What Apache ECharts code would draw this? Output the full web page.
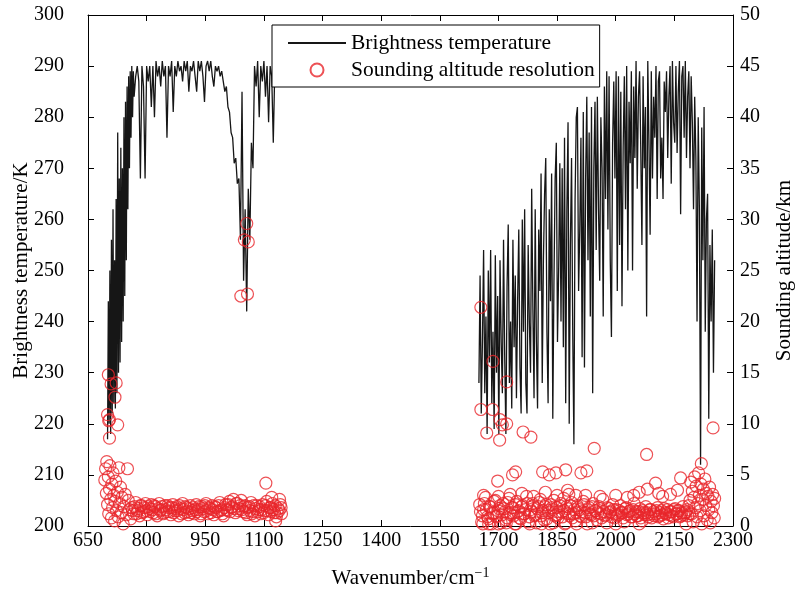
<!DOCTYPE html>
<html><head><meta charset="utf-8">
<script src="https://cdn.jsdelivr.net/npm/echarts/dist/echarts.min.js"></script>
<style>html,body{margin:0;padding:0;background:#fff}#c{width:797px;height:589px}</style>
</head><body><div id="c"></div>
<script>
// ---- Brightness temperature spectrum (K), regular wavenumber grids ----
const edgeStart = 700, edgeStep = 2;
const edgeTemp = [
 217,244,220,250,218,256,222,262,224,252,
 223,264,226,277,230,268,232,274,236,270,
 240,280,245,283,252,286,262,288,270,289,
 276,290,280,289,284];
const plateauStart = 772, plateauStep = 4;
const plateauTemp = [
 288,290,287,268,290,286,268,290,287,290,
 282,290,280,291,288,290,286,291,288,290,
 276,290,288,291,281,290,288,291,289,290,
 287,291,289,291,285,290,289,291,288,285,
 291,289,291,288,283,290,291,289,291,288,
 286,290,289,290,288,289,287,285,286,282,
 281,277,276,271,272,267,268,256,285,248,
 262,242,266,256,275,270,290,286,291,280,
 290,287,291,284,290,279,290,288,275,290,
 289,291,289,290];
const band2Start = 1650, band2Step = 3;
const band2Temp = [
 228,249,222,236,254,226,241,218,250,232,
 254,224,238,219,253,230,245,218,252,236,
 226,256,233,218,247,259,228,240,223,256,
 235,249,225,244,258,231,222,260,238,262,
 228,222,255,240,230,266,243,225,262,236,
 223,258,246,269,228,252,265,272,238,224,
 262,244,269,221,248,268,275,236,250,271,
 240,270,235,276,224,262,279,220,255,272,
 238,216,264,280,282,246,258,276,233,281,
 231,268,284,252,277,241,282,226,270,283,
 254,284,262,248,280,270,241,286,264,289,
 258,288,252,237,275,287,268,289,246,288,
 255,285,243,274,288,262,290,250,283,271,
 289,250,286,272,291,266,284,289,274,255,
 288,270,282,241,291,275,257,289,268,284,
 276,290,264,287,289,268,276,264,287,281,
 289,272,284,290,267,291,279,275,290,273,
 285,291,261,288,290,276,291,272,284,289,
 270,288,279,262,284,272,240,280,262,212,
 278,252,282,238,260,265,221,255,240,258,
 230,252];

// ---- Sounding altitude resolution (km) ----
const edgeWn = [702,709,722,719,700,703,726,705,705,
 693,695,697,698,700,702,703,705,706,708,710,711,713,714,716,718,719,721,723,725,727,729,731,733,735,737,740,742,745,748,751,753,756,759];
const edgeKm = [14.8,13.9,14.0,12.6,10.9,10.3,9.9,8.6,10.4,
 4.5,5.6,3.2,6.3,2.1,4.8,1.2,3.6,5.9,2.6,0.8,4.1,1.8,5.2,3.0,0.5,2.4,4.4,1.5,3.3,0.9,5.7,2.2,3.8,1.3,2.8,0.2,1.9,3.1,1.1,5.6,2.5,1.6,0.7];
const flat1Start = 762, flat1Step = 5;
const flat1Km = [
 1.8,1.2,2.3,1.5,1.0,2.0,1.4,2.2,1.1,1.7,
 2.1,1.3,1.9,1.0,2.2,1.6,1.2,2.0,1.4,1.8,
 1.1,2.1,1.5,1.9,1.0,1.7,2.2,1.3,1.8,1.1,
 2.0,1.5,1.2,2.1,1.6,1.0,1.9,1.4,2.2,1.2,
 1.7,2.0,1.1,1.8,1.4,2.3,1.6,1.0,2.1,1.5,
 2.4,1.8,2.6,1.3,2.2,1.7,2.5,1.4,2.0,1.1,
 1.9,2.3,1.4,1.0,2.0,1.6,1.2,2.1,1.5,2.4,
 1.1,1.8,2.2,1.3,0.9,1.7,2.1];
const flat1bStart = 764, flat1bStep = 5;
const flat1bKm = [
 1.5,1.9,1.2,1.7,2.0,1.3,1.8,1.5,1.9,1.4,
 1.6,2.0,1.2,1.7,1.5,1.9,1.3,1.6,2.0,1.4,
 1.8,1.3,1.7,1.5,2.0,1.2,1.6,1.9,1.4,1.7,
 1.3,1.8,1.6,1.4,1.9,1.2,1.7,2.0,1.5,1.8,
 1.3,1.6,1.9,1.4,2.0,1.5,1.2,1.8,1.6,2.1,
 1.4,1.9,1.7,2.2,1.5,2.0,1.6,1.9,1.3,1.8,
 1.5,1.2,2.0,1.7,1.4,1.9,1.6,1.3,2.0,1.5,
 1.8,1.4,1.6,2.0,1.3,1.5,1.8];
const flat2Start = 1652, flat2Step = 5;
const flat2Km = [
 2.1,0.4,1.6,2.8,0.9,1.9,0.2,1.3,2.5,1.0,
 1.7,0.3,2.2,1.4,0.8,2.7,1.1,1.8,0.2,2.4,
 1.5,0.7,2.0,1.2,2.9,0.4,1.6,2.2,1.0,0.3,
 1.9,2.6,1.3,0.6,2.1,1.5,0.2,1.8,2.5,1.1,
 0.8,2.0,1.4,2.7,0.3,1.7,1.0,2.3,1.2,0.5,
 2.0,1.6,0.9,2.4,1.3,0.2,1.8,1.1,2.2,1.5,
 0.6,1.9,1.2,2.6,1.0,0.3,1.7,1.4,2.1,0.8,
 1.6,1.1,2.0,1.3,0.4,1.8,1.2,1.5,0.9,2.2,
 1.4,1.0,1.7,0.5,1.3,1.9,1.1,1.6,0.8,1.4,
 1.2,1.8,1.0,1.5,0.7,1.3,1.6,1.1,1.4,0.9,
 1.7,1.2,1.5,1.0,1.9,1.3,1.6,2.0];
const flat2bStart = 1654, flat2bStep = 5;
const flat2bKm = [
 1.4,1.0,2.2,1.6,0.7,1.9,1.2,2.4,0.9,1.5,
 2.0,1.1,1.7,0.6,2.3,1.3,1.8,1.0,2.1,1.4,
 0.8,1.9,1.2,1.6,2.2,0.9,1.4,2.0,1.1,1.7,
 2.3,1.0,1.5,1.9,0.7,1.3,2.1,1.6,1.0,1.8,
 1.4,2.2,0.9,1.5,1.9,1.2,2.0,0.8,1.6,1.3,
 1.8,1.0,1.4,2.1,0.9,1.6,1.2,1.9,1.0,1.5,
 1.3,1.7,0.8,1.4,1.1,1.8,1.3,0.9,1.6,1.2,
 1.0,1.5,1.3,0.8,1.7,1.1,1.4,0.9,1.6,1.2,
 1.0,1.4,0.8,1.5,1.1,1.3,0.9,1.6,1.2,1.0,
 1.5,0.9,1.3,1.1,1.7,1.2,0.8,1.4,1.0,1.6,
 1.2,1.5,0.9,1.3,1.1,1.4,1.0,1.2];
const otherWn = [1105,1041,1058,1050,1060,1056,1120,1130,1140,1145,
 1655,1686,1721,1655,1685,1704,1721,1710,1670,1703,1763,1783,1945,
 1744,1736,1698,1813,1847,1872,1830,1911,1926,2079,2166,2102,2081,1877,1898,1923,2158,2110,2046,
 1662,1700,1730,1760,1790,1820,1850,1880,1960,2000,2030,2060,2120,2140,
 1660,1675,1700,1720,1745,1780,1810,1840,1870,1900,1940,2000,2060,2180,
 2190,2192,2194,2196,2198,2200,2202,2204,2206,2208,2210,2212,2214,2216,2218,2220,2222,2224,2226,2228,2230,2232,2234,2236,2238,2240,2242,2244,2246,2248,2250,2252,2253,2219,2249];
const otherKm = [4.2,22.5,22.7,28.0,27.8,29.6,2.8,0.5,2.6,1.2,
 21.4,16.1,14.1,11.4,11.4,10.4,10.0,9.9,9.1,8.4,9.2,8.7,7.6,
 5.3,5.0,4.4,5.3,5.2,5.5,5.0,5.2,5.4,7.0,4.7,4.2,3.6,3.5,3.0,3.0,3.5,3.2,3.0,
 3.0,2.9,3.1,3.2,2.9,3.3,3.0,3.1,2.9,3.0,2.8,3.3,2.9,3.1,
 0.2,0.2,0.2,0.3,0.2,0.2,0.2,0.3,0.2,0.2,0.3,0.2,0.2,0.2,
 2.5,4.3,1.2,3.4,0.4,2.8,4.8,1.8,3.9,0.9,2.2,5.2,3.0,1.5,4.1,0.2,2.6,3.6,1.0,4.6,2.0,3.2,0.6,2.9,1.6,3.8,0.3,2.4,1.3,3.1,2.0,0.8,2.7,6.1,9.6];

// ---- axis ticks ----
const xMin = 650, xMax = 2300, xInterval = 150;
const tMin = 200, tMax = 300, tInterval = 10;
const aMin = 0, aMax = 50, aInterval = 5;

const FONT = '"Liberation Serif","Times New Roman",serif';
const grid = (start, step, vals) => vals.map((v, i) => [start + i * step, v]);
const line1 = grid(edgeStart, edgeStep, edgeTemp).concat(grid(plateauStart, plateauStep, plateauTemp));
const line2 = grid(band2Start, band2Step, band2Temp);
const pts = [];
edgeWn.forEach((w, i) => pts.push([w, edgeKm[i]]));
grid(flat1Start, flat1Step, flat1Km).forEach(p => pts.push(p));
grid(flat1bStart, flat1bStep, flat1bKm).forEach(p => pts.push(p));
grid(flat2Start, flat2Step, flat2Km).forEach(p => pts.push(p));
grid(flat2bStart, flat2bStep, flat2bKm).forEach(p => pts.push(p));
otherWn.forEach((w, i) => pts.push([w, otherKm[i]]));

const RED = '#e8262b';
const axisCommon = {
  axisLine: {onZero: false, lineStyle: {color: '#000', width: 1}},
  axisTick: {inside: true, length: 6, lineStyle: {color: '#000', width: 1}},
  splitLine: {show: false},
  nameMoveOverlap: false
};
const lblStyle = {color: '#000', fontFamily: FONT, fontSize: 20, formatter: v => String(v)};
const nameStyle = {color: '#000', fontFamily: FONT, fontSize: 21};

const chart = echarts.init(document.getElementById('c'));
chart.setOption({
  animation: false,
  backgroundColor: '#fff',
  grid: {left: 88, right: 64, top: 15, bottom: 63, containLabel: false, outerBoundsMode: 'none'},
  legend: {
    orient: 'vertical', left: 272, top: 25,
    padding: [7, 5, 6, 15], itemGap: 5, itemWidth: 58, itemHeight: 13,
    backgroundColor: '#fff', borderColor: '#000', borderWidth: 1,
    textStyle: {fontFamily: FONT, fontSize: 21.5, color: '#000'},
    data: [
      {name: 'Brightness temperature', itemStyle: {color: 'rgba(0,0,0,0)', borderWidth: 0, opacity: 0}},
      {name: 'Sounding altitude resolution'}
    ]
  },
  xAxis: [
    Object.assign({type: 'value', min: xMin, max: xMax, interval: xInterval, position: 'bottom',
      axisLabel: Object.assign({margin: 5}, lblStyle),
      name: 'Wavenumber/cm{s|−1}', nameLocation: 'middle', nameGap: 40,
      nameTextStyle: Object.assign({rich: {s: {fontFamily: FONT, fontSize: 14, padding: [0, 0, 10, 0], color: '#000'}}}, nameStyle)
    }, axisCommon),
    Object.assign({type: 'value', min: xMin, max: xMax, interval: xInterval, position: 'top',
      axisLabel: {show: false}}, axisCommon)
  ],
  yAxis: [
    Object.assign({type: 'value', min: tMin, max: tMax, interval: tInterval, position: 'left',
      axisLabel: Object.assign({margin: 24}, lblStyle),
      name: 'Brightness temperature/K', nameLocation: 'middle', nameGap: 56,
      nameTextStyle: nameStyle}, axisCommon),
    Object.assign({type: 'value', min: aMin, max: aMax, interval: aInterval, position: 'right',
      axisLabel: Object.assign({margin: 7}, lblStyle),
      name: 'Sounding altitude/km', nameLocation: 'middle', nameGap: 41,
      nameTextStyle: nameStyle}, axisCommon)
  ],
  series: [
    {name: 'Brightness temperature', type: 'line', xAxisIndex: 0, yAxisIndex: 0, data: line1,
     symbol: 'none', sampling: null, lineStyle: {color: '#161616', width: 1.3}, itemStyle: {color: '#161616'}, z: 2},
    {name: 'Brightness temperature', type: 'line', xAxisIndex: 0, yAxisIndex: 0, data: line2,
     symbol: 'none', sampling: null, lineStyle: {color: '#161616', width: 1.3}, itemStyle: {color: '#161616'}, z: 2},
    {name: 'Sounding altitude resolution', type: 'scatter', xAxisIndex: 0, yAxisIndex: 1, data: pts,
     symbol: 'circle', symbolSize: 12,
     itemStyle: {color: 'rgba(255,255,255,0)', borderColor: RED, borderWidth: 1.2}, z: 3}
  ]
});
</script></body></html>
